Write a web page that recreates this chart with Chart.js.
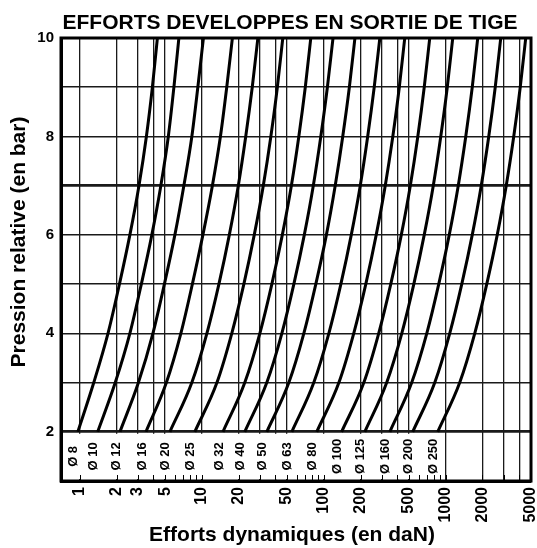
<!DOCTYPE html>
<html>
<head>
<meta charset="utf-8">
<script src="https://cdn.jsdelivr.net/npm/chart.js@4.4.0/dist/chart.umd.min.js"></script>
<style>
  html, body { margin: 0; padding: 0; background: #fff; }
</style>
</head>
<body>
<canvas id="chart" width="537" height="548"></canvas>
<script>
// Pressions (bar) where the curves were read
const pressions = [2, 3, 4, 5, 6, 7, 8, 9, 10];

// Cylinder bores (mm)
const diametres = [8, 10, 12, 16, 20, 25, 32, 40, 50, 63, 80, 100, 125, 160, 200, 250];

// Efforts read on the chart (daN), one array per bore, same order as pressions
const effortD8   = [0.963, 1.30, 1.70, 2.11, 2.57, 3.05, 3.51, 3.93, 4.32];
const effortD10  = [1.40, 1.95, 2.57, 3.19, 3.89, 4.61, 5.31, 5.90, 6.48];
const effortD12  = [2.13, 3.02, 3.97, 4.93, 6.01, 7.12, 8.28, 9.27, 10.3];
const effortD16  = [3.48, 5.12, 6.73, 8.36, 10.2, 12.2, 14.2, 16.0, 17.8];
const effortD20  = [5.47, 8.28, 11.0, 13.8, 16.8, 19.9, 22.9, 25.9, 28.8];
const effortD25  = [8.76, 13.3, 17.6, 22.1, 26.9, 31.9, 36.8, 41.6, 46.1];
const effortD32  = [14.9, 22.5, 29.9, 37.5, 45.7, 54.2, 62.4, 70.5, 78.2];
const effortD40  = [22.5, 34.1, 45.3, 56.8, 69.2, 82.0, 94.5, 107, 119];
const effortD50  = [34.1, 51.7, 68.6, 86.0, 105, 124, 143, 162, 180];
const effortD63  = [54.7, 82.8, 110, 138, 168, 199, 229, 259, 288];
const effortD80  = [87.6, 133, 176, 221, 269, 319, 368, 416, 461];
const effortD100 = [140, 213, 282, 354, 432, 512, 590, 666, 739];
const effortD125 = [217, 328, 436, 547, 666, 790, 910, 1029, 1141];
const effortD160 = [348, 526, 699, 876, 1068, 1266, 1459, 1649, 1829];
const effortD200 = [536, 813, 1078, 1353, 1649, 1954, 2252, 2545, 2824];
const effortD250 = [860, 1302, 1729, 2168, 2643, 3132, 3609, 4080, 4526];

const efforts = [effortD8, effortD10, effortD12, effortD16, effortD20, effortD25, effortD32, effortD40,
  effortD50, effortD63, effortD80, effortD100, effortD125, effortD160, effortD200, effortD250];

// Axis ticks
const xGrille = [1, 2, 3, 4, 5, 10, 20, 30, 40, 50, 100, 200, 300, 400, 500, 1000, 2000, 3000, 4000, 5000];
const xLabels = [1, 2, 3, 5, 10, 20, 50, 100, 200, 500, 1000, 2000, 5000];
const yLabels = [2, 4, 6, 8, 10];

const FONT = "'Liberation Sans', Arial, Helvetica, sans-serif";

const datasets = diametres.map((d, i) => ({
  label: "Ø " + d,
  data: pressions.map((p, j) => ({ x: efforts[i][j], y: p })),
  showLine: true,
  borderColor: "#000",
  borderWidth: 3,
  pointRadius: 0,
  cubicInterpolationMode: "monotone"
}));

// Titles, bore labels in the bottom band, frame
const abaquePlugin = {
  id: "abaque",
  beforeDatasetsDraw(chart) {
    const { ctx, chartArea, scales: { x, y } } = chart;
    const y2 = y.getPixelForValue(2);
    const x1000 = x.getPixelForValue(1000);
    ctx.save();
    // no vertical grid in the label band left of 1000
    ctx.fillStyle = "#fff";
    ctx.fillRect(chartArea.left + 2, y2 + 2, x1000 - chartArea.left - 3.5, chartArea.bottom - y2 - 4);
    // small ticks on the bottom edge
    ctx.strokeStyle = "#000";
    ctx.lineWidth = 1;
    for (let dec = 1; dec <= 1000; dec *= 10) {
      for (let k = 1; k <= 9; k++) {
        const v = k * dec;
        if (v > 5000) continue;
        const px = Math.round(x.getPixelForValue(v)) + 0.5;
        ctx.beginPath();
        ctx.moveTo(px, chartArea.bottom - 1);
        ctx.lineTo(px, chartArea.bottom - 6);
        ctx.stroke();
      }
    }
    ctx.restore();
  },
  afterDatasetsDraw(chart) {
    const { ctx, chartArea, scales: { x, y } } = chart;
    ctx.save();
    // frame
    ctx.strokeStyle = "#000";
    ctx.lineWidth = 3;
    ctx.strokeRect(chartArea.left, chartArea.top, chartArea.right - chartArea.left, chartArea.bottom - chartArea.top);
    // bore labels
    ctx.fillStyle = "#000";
    ctx.font = "bold 13px " + FONT;
    ctx.textAlign = "center";
    ctx.textBaseline = "middle";
    const yMid = y.getPixelForValue(1.5);
    diametres.forEach((d, i) => {
      const px = x.getPixelForValue(efforts[i][0]) - 4;
      ctx.save();
      ctx.translate(px, yMid);
      ctx.rotate(-Math.PI / 2);
      ctx.fillText("Ø " + d, 0, 0);
      ctx.restore();
    });
    // chart title
    ctx.font = "bold 21px " + FONT;
    ctx.fillText("EFFORTS DEVELOPPES EN SORTIE DE TIGE", 290, 23);
    // axis titles
    ctx.fillText("Efforts dynamiques (en daN)", 292, 535);
    ctx.translate(19, 242);
    ctx.rotate(-Math.PI / 2);
    ctx.fillText("Pression relative (en bar)", 0, 0);
    ctx.restore();
  }
};

new Chart(document.getElementById("chart"), {
  type: "scatter",
  data: { datasets },
  plugins: [abaquePlugin],
  options: {
    responsive: false,
    animation: false,
    devicePixelRatio: 1,
    layout: { padding: { top: 38, right: 6, left: 0, bottom: 0 } },
    plugins: {
      legend: { display: false },
      tooltip: { enabled: false }
    },
    scales: {
      x: {
        type: "logarithmic",
        min: 0.7,
        max: 5000,
        afterBuildTicks(scale) {
          scale.ticks = xGrille.map(v => ({ value: v }));
        },
        afterFit(scale) {
          scale.height = 67;
          scale.paddingLeft = 0;
          scale.paddingRight = 0;
        },
        grid: {
          color: "#1a1a1a",
          lineWidth: 1.3,
          drawTicks: false
        },
        border: { display: true, color: "#000", width: 3 },
        ticks: {
          autoSkip: false,
          minRotation: 90,
          maxRotation: 90,
          padding: 6,
          color: "#000",
          font: { family: FONT, size: 16, weight: "bold" },
          callback: v => (xLabels.includes(v) ? String(v) : "")
        }
      },
      y: {
        type: "linear",
        min: 1,
        max: 10,
        afterFit(scale) {
          scale.width = 61;
          scale.paddingTop = 0;
          scale.paddingBottom = 0;
        },
        grid: {
          color: "#1a1a1a",
          lineWidth: c => (c.tick && (c.tick.value === 7 || c.tick.value === 2) ? 2.8 : 1.5),
          drawTicks: false
        },
        border: { display: true, color: "#000", width: 3 },
        ticks: {
          stepSize: 1,
          padding: 7,
          color: "#000",
          font: { family: FONT, size: 15, weight: "bold" },
          callback: v => (yLabels.includes(v) ? String(v) : "")
        }
      }
    }
  }
});
</script>
</body>
</html>
